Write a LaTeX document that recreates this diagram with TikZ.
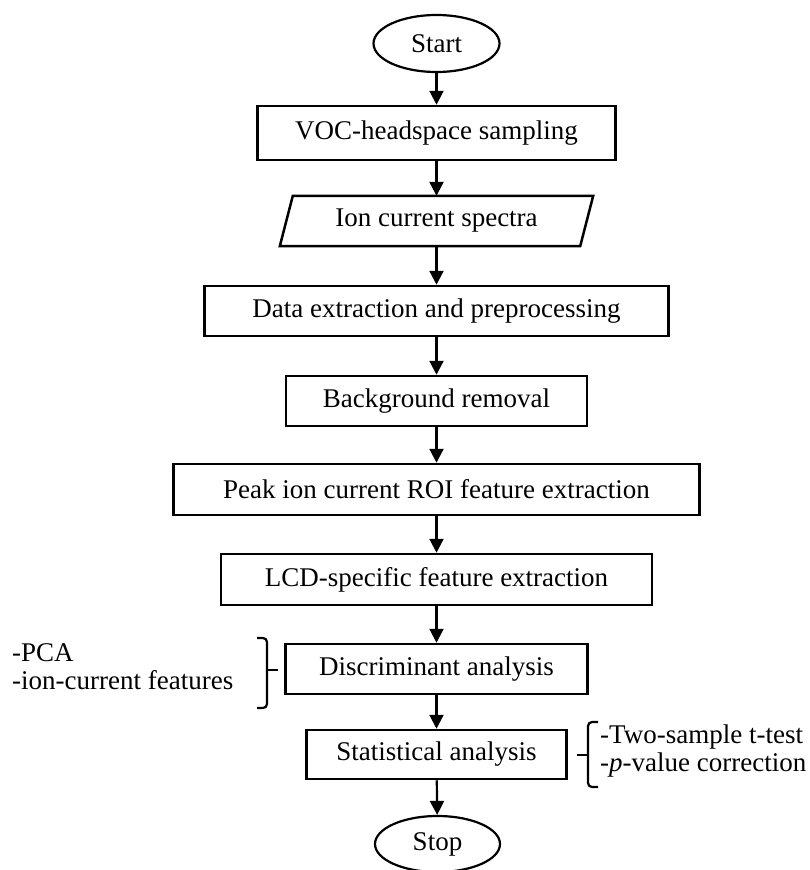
\documentclass[tikz,border=0pt]{standalone}
\usepackage{fontspec}
\setmainfont{Liberation Serif}
\usetikzlibrary{arrows.meta,shapes.geometric,calc}
\begin{document}
\begin{tikzpicture}[x=1pt,y=-1pt,
  every node/.style={font=\fontsize{27}{28}\selectfont, inner sep=0pt},
  procbox/.style={draw, line width=2.5pt, minimum height=#1},
  procbox/.default=50pt,
  term/.style={draw, ellipse, line width=2.2pt, minimum width=126pt, minimum height=57pt},
  flow/.style={line width=2.2pt, -{Triangle[length=14pt,width=14pt]}},
  brace/.style={line width=2.2pt, rounded corners=4pt},
  note/.style={align=left, anchor=west}
]
\useasboundingbox (0,0) rectangle (810,870);

\node[term] (start) at (436.5,43.5) {Start};
\node[procbox=54pt, minimum width=358pt] (voc) at (436.5,133) {VOC-headspace sampling};
\node[minimum width=300pt, minimum height=50pt] (ion) at (436.5,221) {Ion current spectra};
\draw[line width=2.5pt, line join=miter]
  ($(ion.north west)+(6.5,0)$) -- ($(ion.north east)+(6.5,0)$) --
  ($(ion.south east)+(-6.5,0)$) -- ($(ion.south west)+(-6.5,0)$) -- cycle;
\node[procbox=50pt, minimum width=464pt] (data) at (436.5,311) {Data extraction and preprocessing};
\node[procbox=50pt, minimum width=301pt] (bg) at (436.5,401) {Background removal};
\node[procbox=51pt, minimum width=526pt] (peak) at (436.5,489.5) {Peak ion current ROI feature extraction};
\node[procbox=51pt, minimum width=431pt] (lcd) at (436.5,579.5) {LCD-specific feature extraction};
\node[procbox=50pt, minimum width=302pt] (disc) at (436.5,669) {Discriminant analysis};
\node[procbox=49pt, minimum width=260pt] (stat) at (436.5,754.5) {Statistical analysis};
\node[term, minimum width=125pt, minimum height=56pt] (stop) at (437.5,844) {Stop};

\draw[flow] (start) -- (voc);
\draw[flow] (voc) -- (ion);
\draw[flow] (ion) -- (data);
\draw[flow] (data) -- (bg);
\draw[flow] (bg) -- (peak);
\draw[flow] (peak) -- (lcd);
\draw[flow] (lcd) -- (disc);
\draw[flow] (disc) -- (stat);
\draw[flow] (stat) -- (stop);

% left brace
\draw[brace] (257,638) -- (267,638) -- (267,708) -- (257,708);
\draw[line width=2.2pt] (267,670) -- (278,670);
\node[note] (pca) at (12,667) {-PCA\\-ion-current features};

% right brace
\draw[brace] (598,722) -- (588,722) -- (588,787) -- (598,787);
\draw[line width=2.2pt] (588,755) -- (577,755);
\node[note] (ttest) at (600,751) {-Two-sample t-test\\-\textit{p}-value correction};
\end{tikzpicture}
\end{document}
